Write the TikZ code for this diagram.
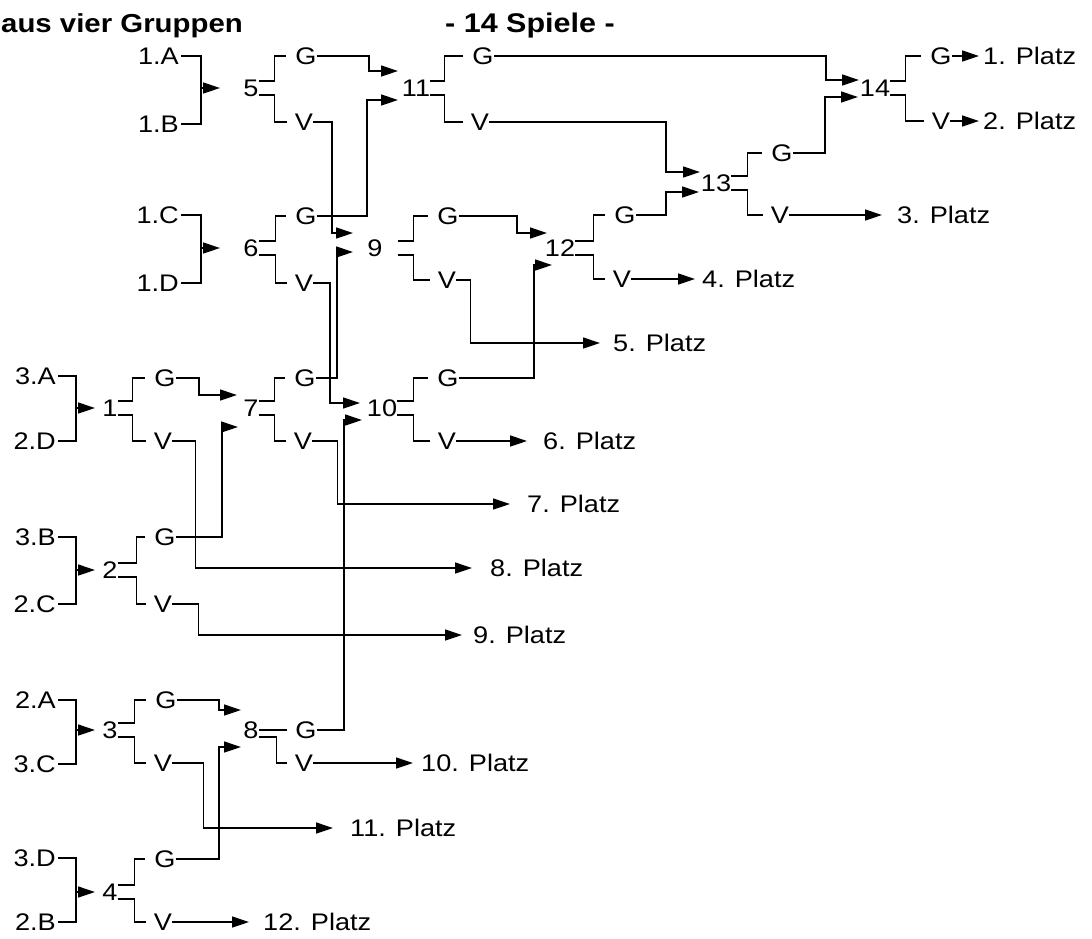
\documentclass[tikz,border=0pt]{standalone}
\usepackage{fontspec}
\setmainfont{Liberation Sans}[FakeStretch=1.13]
\usetikzlibrary{arrows.meta}
\newcommand{\lblfont}{\fontsize{24}{28}\selectfont}
\newcommand{\titelfont}{\fontsize{27}{32}\selectfont\bfseries}

\begin{document}
\begin{tikzpicture}[x=1pt, y=-1pt,
    lbl/.style={font=\lblfont, inner xsep=0pt, inner ysep=0pt, text height=17pt, text depth=0pt},
    team/.style={lbl, anchor=east, inner xsep=2pt},
    platz/.style={lbl, anchor=west},
    ln/.style={line width=1.4pt},
    pfeil/.style={ln, -{Triangle[length=17pt, width=11pt]}}]
  \useasboundingbox (0,0) rectangle (1092,938);
  \node[font=\fontsize{26}{30}\selectfont\bfseries, anchor=base west, inner xsep=0pt] (titel) at (1,32) {aus vier Gruppen};
  \node[font=\titelfont, anchor=base] (spiele) at (530,32) {- 14 Spiele -};

  % Mannschaften
  \foreach \t/\n/\x/\y in {1A/1.A/181/56, 1B/1.B/181/124, 1C/1.C/181/215, 1D/1.D/181/283,
      3A/3.A/58/376, 2D/2.D/58/441, 3B/3.B/58/537, 2C/2.C/58/604,
      2A/2.A/58/700, 3C/3.C/58/764, 3D/3.D/58/858, 2B/2.B/58/922}
    \node[team] (t\t) at (\x,\y) {\n};

  % Spiele, Gewinner, Verlierer
  \foreach \m/\x/\y in {1/110/408, 2/110/570, 3/110/730, 4/110/892,
      5/251/88, 6/251/248, 7/251/408, 8/251/730, 9/375/248, 10/382/408,
      11/416/88, 12/560/248, 13/716/183, 14/875/88}
    \node[lbl] (m\m) at (\x,\y) {\m};
  \foreach \m/\x/\y in {1/165/378, 2/165/537, 3/166/700, 4/165/859,
      5/306/56, 6/306/216, 7/305/378, 8/306/730, 9/448/216, 10/448/378,
      11/483/56, 12/625/215, 13/782/153, 14/941/56}
    \node[lbl] (g\m) at (\x,\y) {G};
  \foreach \m/\x/\y in {1/163/441, 2/163/604, 3/163/763, 4/163/922,
      5/304/122, 6/304/283, 7/303/441, 8/304/763, 9/447/280, 10/447/441,
      11/480/122, 12/622/279, 13/780/215, 14/941/121}
    \node[lbl] (v\m) at (\x,\y) {V};

  % Plaetze
  \foreach \p/\x/\y in {1/983/56, 2/983/121, 3/897/215, 4/702/279,
      5/613/343, 6/543/441, 7/527/504, 8/490/568, 9/473/635,
      10/421/763, 11/350/828, 12/263/922}
    \node[platz] (p\p) at (\x,\y) {\p. Platz};

  % Eingaenge
  \coordinate (e11a) at (398,71);  \coordinate (e11b) at (398,100);
  \coordinate (e9a)  at (353,233); \coordinate (e9b)  at (353,252);
  \coordinate (e10a) at (360,403); \coordinate (e10b) at (362,420);
  \coordinate (e7a)  at (237,395); \coordinate (e7b)  at (238,427);
  \coordinate (e8a)  at (241,710); \coordinate (e8b)  at (241,747);
  \coordinate (e12a) at (547,233); \coordinate (e12b) at (552,265);
  \coordinate (e13a) at (700,172); \coordinate (e13b) at (699,192);
  \coordinate (e14a) at (859,80);  \coordinate (e14b) at (858,97);

  \foreach \a/\b/\s/\m in {1A/1B/20/5, 1C/1D/20/6, 3A/2D/18/1,
      3B/2C/18/2, 2A/3C/18/3, 3D/2B/18/4}
  {
    \draw[ln] (t\a.east) -- ++(\s,0) coordinate (k\m) |- (t\b.east);
    \draw[pfeil] (k\m |- m\m) -- ++(19,0);
  }

  \foreach \m/\o/\s in {1/0/15, 2/0/19, 3/0/17, 4/0/17, 5/0/16, 6/0/17, 7/0/16,
      9/15/16, 10/0/16, 11/0/14, 12/0/18, 13/0/16, 14/0/15}
  {
    \draw[ln] ([xshift=\o pt, yshift=7pt]m\m.east) -- ++(\s,0) |- ([xshift=-9pt]g\m.west);
    \draw[ln] ([xshift=\o pt, yshift=-7pt]m\m.east) -- ++(\s,0) |- ([xshift=-8pt]v\m.west);
  }
  \draw[ln] (m8.east) -- ([xshift=-8pt]g8.west);
  \draw[ln] ([yshift=-7pt]m8.east) -- ++(18,0) |- ([xshift=-8pt]v8.west);

  \foreach \s/\e/\d in {g5/e11a/29pt, g6/e11b/31pt, v5/e9a/21pt, g7/e9b/16pt,
      v6/e10a/30pt, g8/e10b/18pt, g1/e7a/38pt, g2/e7b/16pt, g3/e8a/22pt,
      g4/e8b/22pt, g9/e12a/30pt, g10/e12b/18pt, v11/e13a/34pt,
      g12/e13b/33pt, g11/e14a/33pt, g13/e14b/33pt}
    \draw[pfeil] (\s.east) -| ([xshift=-\d]\e) -- (\e);

  \foreach \s/\p/\d in {g14/1/4pt, v14/2/4pt, v13/3/15pt, v12/4/7pt,
      v10/6/16pt, v8/10/8pt, v4/12/14pt}
    \draw[pfeil] (\s.east) -- ([xshift=-\d]p\p.west);
  \foreach \s/\b/\p/\d in {v9/14/5/13pt, v7/25/7/17pt, v1/23/8/18pt,
      v2/26/9/11pt, v3/31/11/17pt}
    \draw[pfeil] (\s.east) -- ++(\b,0) |- ([xshift=-\d]p\p.west);
\end{tikzpicture}
\end{document}
